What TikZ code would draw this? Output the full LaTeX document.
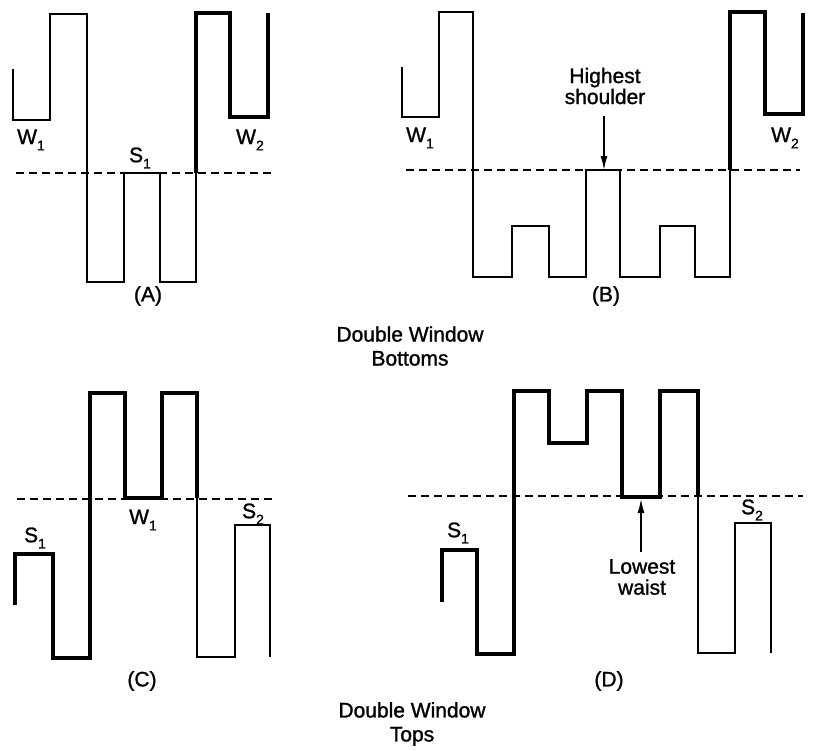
\documentclass[tikz,border=0pt]{standalone}
\usepackage{fontspec}
\setmainfont{Liberation Sans}
\newfontfamily\labelfont[FakeBold=1.2, UprightFont=*, BoldFont=*]{Liberation Sans}
\usetikzlibrary{arrows.meta}
\newcommand{\Wsub}[2]{#1\raisebox{-0.3em}{\fontsize{14}{14}\selectfont #2}}
\tikzset{
  thinline/.style={line width=1.8pt, line join=miter},
  thickline/.style={line width=4.5pt, line join=miter},
  level/.style={line width=1.5pt, dash pattern=on 8pt off 5pt},
  lbl/.style={font=\labelfont\bfseries\fontsize{21}{22}\selectfont, inner sep=0pt},
  title/.style={font=\labelfont\bfseries\fontsize{21}{24}\selectfont, align=center, inner sep=0pt},
  note/.style={font=\labelfont\bfseries\fontsize{21}{21}\selectfont, align=center, inner sep=0pt},
  pointer/.style={line width=1.4pt, -{Latex[length=14pt,width=7pt]}}
}
\begin{document}
\begin{tikzpicture}[x=1pt,y=-1pt]
\useasboundingbox (0,0) rectangle (813,750);

% ---------- Panel A ----------
\draw[level] (16,173) -- (272,173);
\draw[thinline] (13,69) -- (13,120) -- (50,120) -- (50,14) -- (87,14) -- (87,282) -- (124,282) -- (124,173) -- (160,173) -- (160,282) -- (196,282) -- (196,173);
\draw[thickline] (196,173) -- (196,13) -- (230,13) -- (230,117) -- (268,117) -- (268,13);
\node[lbl] (aw1) at (31,140) {\Wsub{W}{1}};
\node[lbl] (as1) at (140,158) {\Wsub{S}{1}};
\node[lbl] (aw2) at (250,140) {\Wsub{W}{2}};
\node[lbl] (la) at (148,296) {(A)};

% ---------- Panel B ----------
\draw[level] (406,170) -- (800,170);
\draw[thinline] (402,67) -- (402,117) -- (439,117) -- (439,12) -- (473,12) -- (473,277) -- (512,277) -- (512,226) -- (549,226) -- (549,277) -- (586,277) -- (586,170) -- (620,170) -- (620,277) -- (660,277) -- (660,226) -- (695,226) -- (695,277) -- (730,277) -- (730,170);
\draw[thickline] (730,170) -- (730,12) -- (765,12) -- (765,114) -- (803,114) -- (803,13);
\node[lbl] (bw1) at (420,138) {\Wsub{W}{1}};
\node[lbl] (bw2) at (785,138) {\Wsub{W}{2}};
\node[note] (hs) at (605,86) {Highest\\shoulder};
\coordinate (hsTip) at (604,170);
\draw[pointer] (604,116) -- (hsTip);
\node[lbl] (lb) at (606,296) {(B)};

\node[title] (tb) at (410,346) {Double Window\\Bottoms};

% ---------- Panel C ----------
\draw[level] (17,499) -- (275,499);
\draw[thickline] (15,605) -- (15,554) -- (53,554) -- (53,658) -- (90,658) -- (90,393) -- (125,393) -- (125,498) -- (162,498) -- (162,393) -- (197,393) -- (197,498);
\draw[thinline] (197,498) -- (197,657) -- (235,657) -- (235,525) -- (270,525) -- (270,657);
\node[lbl] (cs1) at (35,538) {\Wsub{S}{1}};
\node[lbl] (cw1) at (143,520) {\Wsub{W}{1}};
\node[lbl] (cs2) at (253,514) {\Wsub{S}{2}};
\node[lbl] (lc) at (142,681) {(C)};

% ---------- Panel D ----------
\draw[level] (408,496) -- (803,496);
\draw[thickline] (442,602) -- (442,550) -- (477,550) -- (477,654) -- (514,654) -- (514,391) -- (549,391) -- (549,443) -- (587,443) -- (587,391) -- (622,391) -- (622,497) -- (660,497) -- (660,391) -- (698,391) -- (698,497);
\draw[thinline] (698,497) -- (698,653) -- (735,653) -- (735,523) -- (771,523) -- (771,653);
\node[lbl] (ds1) at (458,533) {\Wsub{S}{1}};
\node[lbl] (ds2) at (752,510) {\Wsub{S}{2}};
\node[note] (lw) at (642,577) {Lowest\\waist};
\coordinate (lwTip) at (641,499);
\draw[pointer] (641,552) -- (lwTip);
\node[lbl] (ld) at (609,681) {(D)};

\node[title] (tt) at (412,724) {Double Window\\Tops};
\end{tikzpicture}
\end{document}
